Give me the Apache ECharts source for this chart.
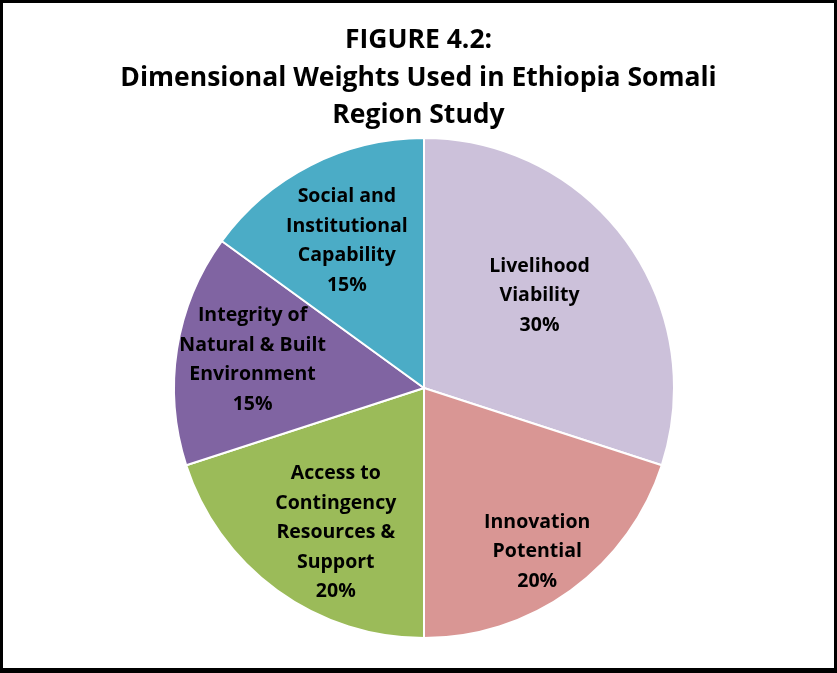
<!DOCTYPE html>
<html>
<head>
<meta charset="utf-8">
<script src="https://cdn.jsdelivr.net/npm/echarts@6/dist/echarts.min.js"></script>
<style>
html,body{margin:0;padding:0;background:#fff;}
#chart{width:837px;height:673px;}
</style>
</head>
<body>
<div id="chart"></div>
<script>
const titleLines = ['FIGURE 4.2:', 'Dimensional Weights Used in Ethiopia Somali', 'Region Study'];
const categories = ['Livelihood\nViability', 'Innovation\nPotential', 'Access to\nContingency\nResources &\nSupport', 'Integrity of\nNatural & Built\nEnvironment', 'Social and\nInstitutional\nCapability'];
const values = [30, 20, 20, 15, 15];
const colors = ['#CCC1DA', '#D99694', '#9BBB59', '#8064A2', '#4BACC6'];
const labelOffsets = [[12, -17], [38, 60], [-13, 41], [-45, -8], [-19, -33]];

const FONT = '"Open Sans", "Liberation Sans", Arial, sans-serif';
const chart = echarts.init(document.getElementById('chart'), null, {renderer: 'canvas'});
chart.setOption({
  animation: false,
  backgroundColor: '#fff',
  title: {
    text: titleLines.join('\n'),
    left: 'center',
    top: 17,
    textStyle: {fontFamily: FONT, fontWeight: 'bold', fontSize: 26.5, lineHeight: 37.5, color: '#000'}
  },
  graphic: [{
    type: 'rect',
    shape: {x: 1.5, y: 1.5, width: 834, height: 668},
    style: {fill: 'none', stroke: '#000', lineWidth: 3},
    silent: true
  }, {
    type: 'rect',
    shape: {x: 0, y: 668, width: 837, height: 5},
    style: {fill: '#000'},
    silent: true
  }],
  series: [{
    type: 'pie',
    center: [424, 388],
    radius: [0, 250],
    startAngle: 90,
    clockwise: true,
    itemStyle: {borderColor: '#fff', borderWidth: 2},
    label: {
      show: true,
      position: 'inside',
      fontFamily: FONT,
      fontWeight: 'bold',
      fontSize: 19.5,
      lineHeight: 29.5,
      color: '#000',
      align: 'center',
      formatter: p => p.name + '\n' + p.value + '%'
    },
    labelLine: {show: false},
    data: categories.map((c, i) => ({
      name: c,
      value: values[i],
      itemStyle: {color: colors[i]},
      label: {offset: labelOffsets[i]}
    }))
  }]
});
</script>
</body>
</html>
